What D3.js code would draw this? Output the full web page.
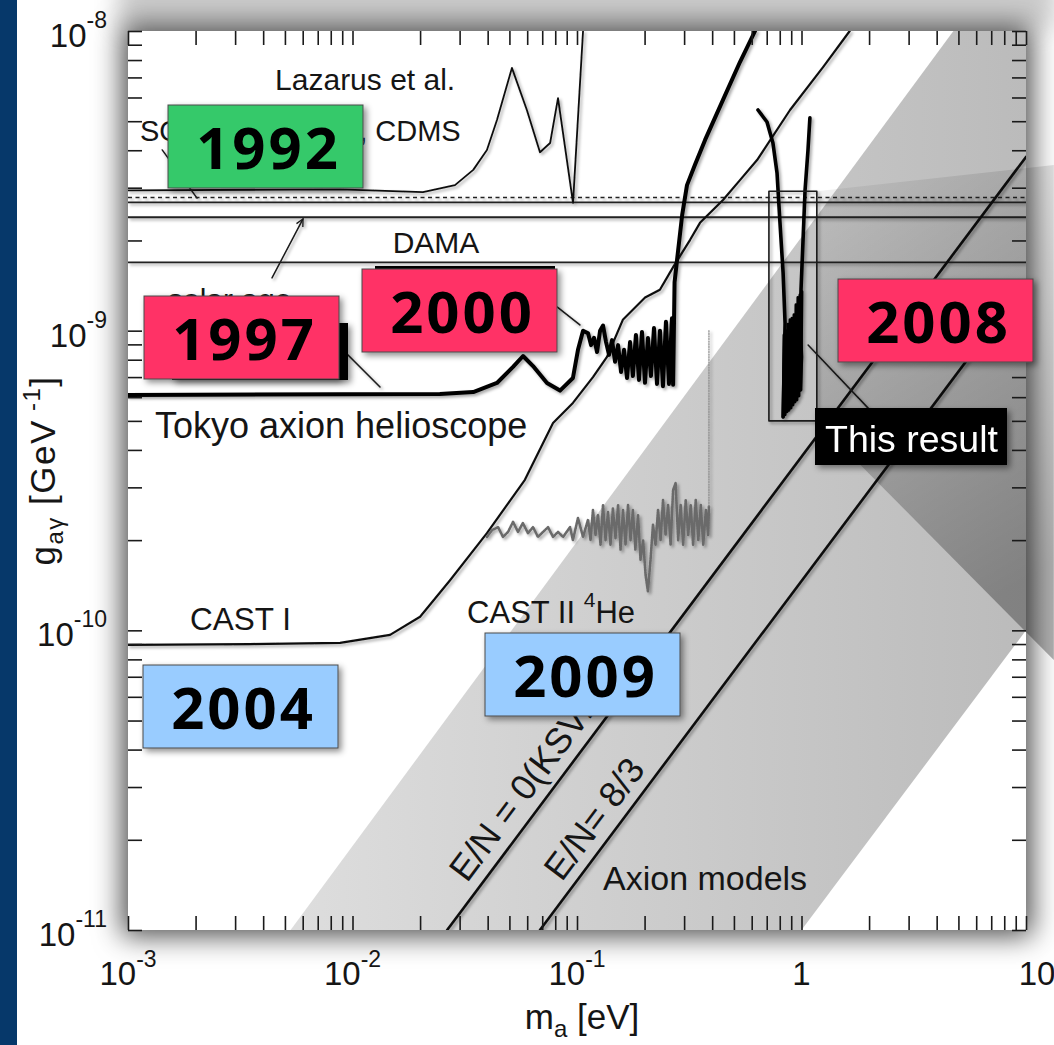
<!DOCTYPE html>
<html>
<head>
<meta charset="utf-8">
<script src="https://cdn.jsdelivr.net/npm/d3@7"></script>
<style>
  html, body { margin: 0; padding: 0; background: #ffffff; }
  svg { display: block; }
</style>
</head>
<body>
<svg id="chart" width="1054" height="1045"></svg>
<script>
// ---- axis ranges (axion mass in eV, photon coupling in GeV^-1) ----
const massDomain = [1e-3, 10];
const couplingDomain = [1e-11, 1e-8];

const xTickValues = [1e-3, 1e-2, 1e-1, 1, 10];
const xTickLabels = [["10", "-3"], ["10", "-2"], ["10", "-1"], ["1", ""], ["10", ""]];
const yTickValues = [1e-8, 1e-9, 1e-10, 1e-11];
const yTickLabels = [["10", "-8"], ["10", "-9"], ["10", "-10"], ["10", "-11"]];

// ---- exclusion limits, [mass eV, g GeV^-1] ----
const lazarus = [
  [1e-3, 2.94e-9], [8.8e-3, 2.96e-9], [0.0206, 2.9e-9], [0.0286, 3.06e-9],
  [0.0345, 3.44e-9], [0.0397, 4.01e-9], [0.044, 5.05e-9], [0.0513, 7.53e-9],
  [0.0598, 5.45e-9], [0.0684, 3.94e-9], [0.0759, 4.23e-9], [0.0823, 5.97e-9],
  [0.096, 2.67e-9], [0.1064, 1e-8]
];

const horizontalLimitNames = ["COSME", "SOLAX", "solar age", "DAMA"];
const horizontalLimitValues = [2.78e-9, 2.68e-9, 2.39e-9, 1.69e-9];

const tokyoHelioscope = [
  [1e-3, 6.1e-10], [0.0245, 6.15e-10], [0.0345, 6.24e-10], [0.044, 6.69e-10],
  [0.0519, 7.57e-10], [0.0575, 8.23e-10], [0.0637, 7.62e-10], [0.0735, 6.69e-10],
  [0.084, 6.31e-10], [0.0959, 6.95e-10], [0.101, 8.63e-10], [0.1064, 1.0e-9],
  [0.112, 9.8e-10], [0.1155, 8.95e-10], [0.1191, 9.46e-10], [0.1228, 8.49e-10],
  [0.1267, 1.0e-9], [0.1306, 1.04e-9], [0.1347, 9.16e-10], [0.1389, 8.3e-10],
  [0.1432, 9.3e-10], [0.1477, 7.87e-10], [0.1524, 8.95e-10], [0.1571, 7.28e-10],
  [0.162, 8.63e-10], [0.167, 6.95e-10], [0.1723, 9.16e-10], [0.1774, 7.06e-10],
  [0.183, 9.68e-10], [0.1888, 6.85e-10], [0.1947, 9.9e-10], [0.2008, 6.7e-10],
  [0.207, 9.46e-10], [0.2135, 7.06e-10], [0.2202, 1.02e-9], [0.2271, 6.64e-10],
  [0.2342, 1.0e-9], [0.2415, 6.53e-10], [0.249, 1.07e-9], [0.2568, 6.64e-10],
  [0.2648, 1.1e-9], [0.268, 6.6e-10], [0.272, 1.45e-9], [0.279, 1.72e-9],
  [0.294, 2.43e-9], [0.309, 3.06e-9], [0.335, 3.57e-9], [0.372, 4.33e-9],
  [0.447, 5.89e-9], [0.532, 7.88e-9], [0.621, 1.0e-8]
];

const castI = [
  [1e-3, 8.94e-11], [3.49e-3, 9.0e-11], [8.8e-3, 9.08e-11], [0.0147, 9.66e-11],
  [0.02, 1.11e-10], [0.0272, 1.47e-10], [0.0397, 2.11e-10], [0.0586, 3.18e-10],
  [0.0782, 4.92e-10], [0.0959, 5.74e-10], [0.1178, 7.0e-10], [0.136, 8.17e-10],
  [0.160, 1.087e-9], [0.201, 1.29e-9], [0.234, 1.37e-9], [0.268, 1.63e-9],
  [0.319, 2.01e-9], [0.353, 2.29e-9], [0.447, 2.73e-9], [0.532, 3.18e-9],
  [0.634, 3.71e-9], [0.889, 5.45e-9], [1.25, 7.59e-9], [1.64, 1e-8]
];

const castII = [
  [0.0397, 2.05e-10], [0.0418, 2.16e-10], [0.0445, 2.21e-10], [0.0468, 2.05e-10],
  [0.0493, 2.13e-10], [0.0519, 2.30e-10], [0.0546, 2.13e-10], [0.0574, 2.28e-10],
  [0.0605, 2.11e-10], [0.0637, 2.21e-10], [0.0670, 2.05e-10], [0.0706, 2.13e-10],
  [0.0743, 2.21e-10], [0.0782, 2.05e-10], [0.0823, 2.13e-10], [0.0867, 2.05e-10],
  [0.0931, 2.21e-10], [0.0959, 2.0e-10], [0.101, 2.37e-10], [0.1064, 2.05e-10],
  [0.112, 2.34e-10], [0.1149, 2.0e-10], [0.1178, 2.52e-10], [0.1209, 2.08e-10],
  [0.124, 2.43e-10], [0.1273, 1.93e-10], [0.1306, 2.62e-10], [0.134, 2.0e-10],
  [0.1374, 2.48e-10], [0.141, 1.93e-10], [0.1445, 2.55e-10], [0.1484, 2.03e-10],
  [0.1524, 2.62e-10], [0.1563, 1.86e-10], [0.1603, 2.52e-10], [0.1645, 1.93e-10],
  [0.1688, 2.62e-10], [0.1732, 2.0e-10], [0.1774, 2.52e-10], [0.182, 1.86e-10],
  [0.187, 2.43e-10], [0.1918, 1.72e-10], [0.197, 2.0e-10], [0.2021, 1.53e-10],
  [0.207, 1.35e-10], [0.2126, 1.72e-10], [0.218, 2.25e-10], [0.2237, 1.93e-10],
  [0.2296, 2.52e-10], [0.2356, 2.0e-10], [0.2417, 2.72e-10], [0.248, 2.08e-10],
  [0.2545, 2.62e-10], [0.2612, 1.93e-10], [0.268, 2.94e-10], [0.275, 3.10e-10],
  [0.2822, 2.0e-10], [0.2895, 2.62e-10], [0.297, 1.93e-10], [0.305, 2.72e-10],
  [0.3128, 2.08e-10], [0.321, 2.62e-10], [0.329, 1.93e-10], [0.338, 2.72e-10],
  [0.347, 2.0e-10], [0.356, 2.62e-10], [0.365, 1.93e-10], [0.375, 2.52e-10],
  [0.384, 2.08e-10], [0.387, 2.6e-10], [0.387, 1.0e-9]
];

// new result around 1 eV: two arms and the dense scan between them
const thisResultLeft = [
  [0.64, 5.45e-9], [0.702, 4.97e-9], [0.746, 4.23e-9], [0.778, 3.36e-9],
  [0.802, 2.29e-9], [0.828, 1.56e-9], [0.845, 1.06e-9], [0.836, 7.23e-10],
  [0.828, 5.15e-10]
];
const thisResultScan = [
  [0.828, 5.15e-10], [0.836, 9.67e-10], [0.845, 5.24e-10], [0.853, 1.0e-9],
  [0.862, 5.36e-10], [0.871, 1.05e-9], [0.880, 5.43e-10], [0.889, 1.087e-9],
  [0.898, 5.52e-10], [0.907, 1.10e-9], [0.916, 5.65e-10], [0.926, 1.13e-9],
  [0.935, 5.78e-10], [0.945, 1.22e-9], [0.954, 5.87e-10], [0.964, 1.29e-9],
  [0.974, 6.05e-10], [0.984, 1.315e-9], [0.994, 6.34e-10], [1.004, 1.35e-9]
];
const thisResultRight = [
  [0.986, 6.34e-10], [1.0, 8.17e-10], [0.986, 1.06e-9], [0.995, 1.37e-9],
  [1.016, 2.01e-9], [1.037, 2.94e-9], [1.069, 4.01e-9], [1.09, 5.13e-9]
];
const resultWindow = [[0.716, 5.0e-10], [1.17, 2.92e-9]];
const resultCallout = [[1.17, 2.92e-9], [13.3, 3.57e-9], [13.3, 7.96e-11], [1.17, 5.0e-10]];

// axion model lines and band
const ksvzLine = [[0.0264, 1e-11], [10, 3.8e-9]];
const en83Line = [[0.0684, 1e-11], [10, 1.46e-9]];
const modelBandUpper = [[5.3e-3, 1e-11], [4.75, 1e-8]];
const modelBandLower = [[1, 1e-11], [10, 1e-10]];

// pointer lines between labels and curves
const solaxPointer = [[1.42e-3, 4.01e-9], [2.03e-3, 2.77e-9]];
const solarAgeArrow = [[4.38e-3, 1.5e-9], [6.02e-3, 2.36e-9]];
const tokyo1997Pointer = [[9.55e-3, 8.3e-10], [0.01326, 6.49e-10]];
const tokyo2000Pointer = [[0.0815, 1.2e-9], [0.103, 1.045e-9]];
const resultPointer = [[1.07, 8.95e-10], [2.02, 5.43e-10]];

const yearTags = ["1992", "1997", "2000", "2004", "2008", "2009"];

// ---------------------------------------------------------------
const svg = d3.select("#chart");
const defs = svg.append("defs");
const FONT = "'Liberation Sans', Arial, Helvetica, sans-serif";
const INK = "#151515";

const frame = { left: 128, top: 31, right: 1026, bottom: 930 };
const x = d3.scaleLog().domain(massDomain).range([frame.left, frame.right]);
const y = d3.scaleLog().domain(couplingDomain).range([frame.bottom, frame.top]);
const px = d => [x(d[0]), y(d[1])];
const line = d3.line().x(d => x(d[0])).y(d => y(d[1]));

// filters
function shadowFilter(id, dilate, blur, opacity, dx, dy) {
  const f = defs.append("filter").attr("id", id)
    .attr("x", "-30%").attr("y", "-30%").attr("width", "160%").attr("height", "160%");
  let src = "SourceAlpha";
  if (dilate > 0) {
    f.append("feMorphology").attr("in", src).attr("operator", "dilate").attr("radius", dilate).attr("result", "dil");
    src = "dil";
  }
  f.append("feGaussianBlur").attr("in", src).attr("stdDeviation", blur).attr("result", "blur");
  f.append("feOffset").attr("in", "blur").attr("dx", dx).attr("dy", dy).attr("result", "off");
  f.append("feFlood").attr("flood-color", "#000").attr("flood-opacity", opacity).attr("result", "col");
  f.append("feComposite").attr("in", "col").attr("in2", "off").attr("operator", "in").attr("result", "sh");
  const mg = f.append("feMerge");
  mg.append("feMergeNode").attr("in", "sh");
  mg.append("feMergeNode").attr("in", "SourceGraphic");
}
shadowFilter("plotShadow", 6, 14, 0.7, 0, 0);
shadowFilter("softShadow", 0, 1.6, 0.35, 1.5, 1.5);
shadowFilter("tagShadow", 0, 3, 0.45, 3, 3);
defs.append("filter").attr("id", "haze").attr("x", "-20%").attr("y", "-100%").attr("width", "140%").attr("height", "300%")
  .append("feGaussianBlur").attr("stdDeviation", 12);
defs.append("filter").attr("id", "fuzz").append("feGaussianBlur").attr("stdDeviation", 0.6);

const bandGrad = defs.append("linearGradient").attr("id", "bandFill")
  .attr("gradientUnits", "userSpaceOnUse").attr("x1", 300).attr("y1", 0).attr("x2", 1026).attr("y2", 0);
bandGrad.append("stop").attr("offset", 0).attr("stop-color", "#dddddd");
bandGrad.append("stop").attr("offset", 1).attr("stop-color", "#bbbbbb");

const callGrad = defs.append("linearGradient").attr("id", "calloutFill")
  .attr("gradientUnits", "userSpaceOnUse").attr("x1", 818).attr("y1", 220).attr("x2", 1054).attr("y2", 560);
callGrad.append("stop").attr("offset", 0).attr("stop-color", "#000").attr("stop-opacity", 0.06);
callGrad.append("stop").attr("offset", 1).attr("stop-color", "#000").attr("stop-opacity", 0.31);

defs.append("clipPath").attr("id", "plotClip").append("rect")
  .attr("x", frame.left).attr("y", frame.top)
  .attr("width", frame.right - frame.left).attr("height", frame.bottom - frame.top);

defs.append("marker").attr("id", "arrowHead")
  .attr("viewBox", "0 0 10 10").attr("refX", 9).attr("refY", 5)
  .attr("markerWidth", 9).attr("markerHeight", 9).attr("markerUnits", "userSpaceOnUse")
  .attr("orient", "auto")
  .append("path").attr("d", "M1,1 L9,5 L1,9").attr("fill", "none").attr("stroke", INK).attr("stroke-width", 1.4);

// page backdrop
svg.append("rect").attr("width", 1054).attr("height", 1045).attr("fill", "#ffffff");
svg.append("rect").attr("x", frame.left - 10).attr("y", -40)
  .attr("width", frame.right - frame.left + 40).attr("height", 68)
  .attr("fill", "#000").attr("opacity", 0.2).attr("filter", "url(#haze)");
svg.append("rect").attr("x", 0).attr("y", 0).attr("width", 17).attr("height", 1045).attr("fill", "#06386a");

// plot canvas
svg.append("rect")
  .attr("x", frame.left).attr("y", frame.top)
  .attr("width", frame.right - frame.left).attr("height", frame.bottom - frame.top)
  .attr("fill", "#ffffff").attr("filter", "url(#plotShadow)");

const plot = svg.append("g").attr("clip-path", "url(#plotClip)");

// axion model band
const bandPoly = [
  modelBandUpper[0], modelBandUpper[1], [massDomain[1], couplingDomain[1]],
  modelBandLower[1], modelBandLower[0]
];
plot.append("path").attr("d", "M" + bandPoly.map(px).join("L") + "Z").attr("fill", "url(#bandFill)");

// callout wedge leaving the result window
svg.append("path").attr("d", "M" + resultCallout.map(px).join("L") + "Z").attr("fill", "url(#calloutFill)");

// ticks on all four sides
function tickAxis(gen, tx, ty) {
  const g = svg.append("g").attr("transform", `translate(${tx},${ty})`).call(gen);
  g.select(".domain").remove();
  g.selectAll(".tick text").remove();
  g.selectAll(".tick line").attr("stroke", "#1a1a1a").attr("stroke-width", 1.6);
}
tickAxis(d3.axisBottom(x).tickValues(x.ticks()).tickSize(-14).tickFormat(""), 0, frame.bottom);
tickAxis(d3.axisTop(x).tickValues(x.ticks()).tickSize(-14).tickFormat(""), 0, frame.top);
tickAxis(d3.axisLeft(y).tickValues(y.ticks()).tickSize(-14).tickFormat(""), frame.left, 0);
tickAxis(d3.axisRight(y).tickValues(y.ticks()).tickSize(-14).tickFormat(""), frame.right, 0);

// horizontal limits
const curves = plot.append("g").attr("filter", "url(#softShadow)")
  .attr("fill", "none").attr("stroke-linejoin", "round").attr("stroke-linecap", "round");

horizontalLimitValues.forEach((g, i) => {
  curves.append("line")
    .attr("x1", x(massDomain[0])).attr("x2", x(massDomain[1]))
    .attr("y1", y(g)).attr("y2", y(g))
    .attr("stroke", "#202020")
    .attr("stroke-width", [1.5, 1.8, 2.2, 1.8][i])
    .attr("stroke-dasharray", i === 0 ? "4,3.5" : null)
    .attr("stroke-linecap", "butt")
    .attr("data-name", horizontalLimitNames[i]);
});

// axion model lines
[ksvzLine, en83Line].forEach(l => {
  curves.append("path").attr("d", line(l)).attr("stroke", "#0c0c0c").attr("stroke-width", 2.6);
});

// experiment limits
curves.append("path").attr("d", line(lazarus)).attr("stroke", "#111").attr("stroke-width", 1.8);
curves.append("path").attr("d", line(castI)).attr("stroke", "#111").attr("stroke-width", 2.2);
const castIIGroup = curves.append("g").attr("filter", "url(#fuzz)");
castIIGroup.append("path").attr("d", line(castII.slice(0, -1)))
  .attr("stroke", "#6a6a6a").attr("stroke-width", 2.6).attr("stroke-dasharray", "1.6,1.0");
castIIGroup.append("path").attr("d", line(castII.slice(-2)))
  .attr("stroke", "#8a8a8a").attr("stroke-width", 1.2).attr("stroke-dasharray", "1.2,1.4");
curves.append("path").attr("d", line(tokyoHelioscope)).attr("stroke", "#000").attr("stroke-width", 4);
curves.append("path").attr("d", line(thisResultLeft)).attr("stroke", "#000").attr("stroke-width", 3.6);
curves.append("path").attr("d", line(thisResultScan)).attr("stroke", "#000").attr("stroke-width", 3);
curves.append("path").attr("d", line(thisResultRight)).attr("stroke", "#000").attr("stroke-width", 3.6);

// result window
const rw0 = px(resultWindow[0]), rw1 = px(resultWindow[1]);
curves.append("rect")
  .attr("x", rw0[0]).attr("y", rw1[1]).attr("width", rw1[0] - rw0[0]).attr("height", rw0[1] - rw1[1])
  .attr("stroke", "#1a1a1a").attr("stroke-width", 1.6);

// pointers
[solaxPointer, tokyo1997Pointer, tokyo2000Pointer, resultPointer].forEach(p => {
  curves.append("path").attr("d", line(p)).attr("stroke", "#1a1a1a").attr("stroke-width", 1.5);
});
curves.append("path").attr("d", line(solarAgeArrow)).attr("stroke", "#1a1a1a").attr("stroke-width", 1.5)
  .attr("marker-end", "url(#arrowHead)");

// in-plot labels
const labelLayout = [
  { text: "Lazarus et al.", at: [4.52e-3, 6.35e-9], size: 30 },
  { text: "SOLAX, COSME, CDMS", at: [1.131e-3, 4.3e-9], size: 29 },
  { text: "DAMA", at: [0.0151, 1.82e-9], size: 30 },
  { text: "solar age", at: [1.507e-3, 1.17e-9], size: 30 },
  { text: "Tokyo axion helioscope", at: [1.319e-3, 4.39e-10], size: 36 },
  { text: "CAST I", at: [1.888e-3, 1.0e-10], size: 31.5 },
  { text: "Axion models", at: [0.1306, 1.36e-11], size: 34 }
];
const labels = svg.append("g").attr("font-family", FONT).attr("fill", INK);
labelLayout.forEach(l => {
  labels.append("text").attr("x", x(l.at[0])).attr("y", y(l.at[1]))
    .attr("font-size", l.size).text(l.text);
});
const castIILabel = labels.append("text").attr("x", x(0.0324)).attr("y", y(1.06e-10)).attr("font-size", 31);
castIILabel.append("tspan").text("CAST II ");
castIILabel.append("tspan").attr("font-size", 21).attr("dy", -16).text("4");
castIILabel.append("tspan").attr("dy", 16).text("He");

// rotated model labels
function slantedLabel(l, text, along, offset, size) {
  const p0 = px(l[0]), p1 = px(l[1]);
  const len = Math.hypot(p1[0] - p0[0], p1[1] - p0[1]);
  const u = [(p1[0] - p0[0]) / len, (p1[1] - p0[1]) / len];
  const n = [u[1], -u[0]];
  const ax = p0[0] + along * u[0] + offset * n[0];
  const ay = p0[1] + along * u[1] + offset * n[1];
  const ang = Math.atan2(u[1], u[0]) * 180 / Math.PI;
  labels.append("text").attr("transform", `translate(${ax},${ay}) rotate(${ang})`)
    .attr("font-size", size).text(text);
}
slantedLabel(ksvzLine, "E/N = 0(KSVZ)", 49, 12, 36);
slantedLabel(en83Line, "E/N= 8/3", 51, 11, 36);

// tick labels (the last mass label sits just right of its tick)
const tickText = svg.append("g").attr("font-family", FONT).attr("fill", INK);
xTickValues.forEach((v, i) => {
  const t = tickText.append("text").attr("x", x(v) + (i === xTickValues.length - 1 ? 11 : 0)).attr("y", 985)
    .attr("text-anchor", "middle").attr("font-size", 33);
  t.append("tspan").text(xTickLabels[i][0]);
  if (xTickLabels[i][1]) t.append("tspan").attr("font-size", 23).attr("dy", -18).text(xTickLabels[i][1]);
});
yTickValues.forEach((v, i) => {
  const t = tickText.append("text").attr("x", 107).attr("y", y(v) + 16)
    .attr("text-anchor", "end").attr("font-size", 33);
  t.append("tspan").text(yTickLabels[i][0]);
  t.append("tspan").attr("font-size", 23).attr("dy", -19).text(yTickLabels[i][1]);
});

// axis titles
const xTitle = tickText.append("text").attr("x", (frame.left + frame.right) / 2 + 5).attr("y", 1029)
  .attr("text-anchor", "middle").attr("font-size", 35);
xTitle.append("tspan").text("m");
xTitle.append("tspan").attr("font-size", 24).attr("dy", 8).text("a");
xTitle.append("tspan").attr("dy", -8).text(" [eV]");

const yTitle = tickText.append("text")
  .attr("transform", `translate(55,${(frame.top + frame.bottom) / 2 - 10}) rotate(-90)`)
  .attr("text-anchor", "middle").attr("font-size", 35).attr("letter-spacing", 1.5);
yTitle.append("tspan").text("g");
yTitle.append("tspan").attr("font-size", 24).attr("dy", 8).text("aγ");
yTitle.append("tspan").attr("dy", -8).text(" [GeV");
yTitle.append("tspan").attr("font-size", 24).attr("dy", -15).text(" -1");
yTitle.append("tspan").attr("dy", 15).text("]");

// "This result" tag
const resultTag = svg.append("g").attr("filter", "url(#tagShadow)");
resultTag.append("rect").attr("x", 815).attr("y", 408).attr("width", 192).attr("height", 57).attr("fill", "#000");
resultTag.append("text").attr("x", 825).attr("y", 452).attr("font-family", FONT)
  .attr("font-size", 37.5).attr("fill", "#ffffff").text("This result");

// year tags
const tagStyle = {
  "1992": { x: 168, y: 105, fill: "#36c96b" },
  "1997": { x: 144, y: 296, fill: "#ff3366" },
  "2000": { x: 362, y: 269, fill: "#ff3366" },
  "2004": { x: 143, y: 665, fill: "#99ccff" },
  "2008": { x: 838, y: 279, fill: "#ff3366" },
  "2009": { x: 485, y: 633, fill: "#99ccff" }
};
const tags = svg.append("g");
// dark plates sitting behind two of the tags
tags.append("rect").attr("x", 172).attr("y", 323).attr("width", 176).attr("height", 57)
  .attr("fill", "#000").attr("filter", "url(#tagShadow)");
tags.append("rect").attr("x", 375).attr("y", 266).attr("width", 180).attr("height", 40).attr("fill", "#000");

yearTags.forEach(yr => {
  const s = tagStyle[yr];
  const g = tags.append("g").attr("filter", "url(#tagShadow)");
  g.append("rect").attr("x", s.x).attr("y", s.y).attr("width", 195).attr("height", 83)
    .attr("fill", s.fill).attr("stroke", "#4a4a4a").attr("stroke-width", 1);
  g.append("text").attr("x", s.x + 97.5 + 3).attr("y", s.y + 64)
    .attr("text-anchor", "middle").attr("font-family", "'Open Sans', 'DejaVu Sans', sans-serif")
    .attr("font-weight", 700).attr("font-size", 58).attr("letter-spacing", 3)
    .attr("fill", "#000").text(yr);
});
</script>
</body>
</html>
